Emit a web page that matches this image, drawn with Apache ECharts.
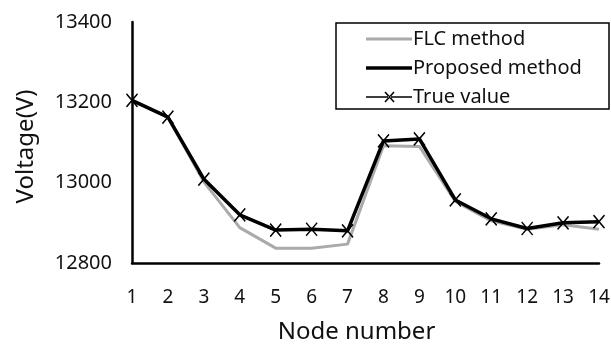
<!DOCTYPE html>
<html>
<head>
<meta charset="utf-8">
<script src="https://cdn.jsdelivr.net/npm/echarts@6/dist/echarts.min.js"></script>
<style>
  html, body { margin: 0; padding: 0; background: #fff; }
  #chart { width: 611px; height: 345px; }
</style>
</head>
<body>
<div id="chart"></div>
<script>
// Node voltages along the feeder
const nodes = ['1','2','3','4','5','6','7','8','9','10','11','12','13','14'];
const flcMethod = [13205, 13163, 13002, 12888, 12837, 12837, 12847, 13092, 13090, 12953, 12905, 12884, 12895, 12884];
const proposedMethod = [13205, 13163, 13009, 12920, 12882, 12884, 12880, 13104, 13109, 12957, 12910, 12886, 12900, 12903];
const trueValue = [13205, 13163, 13009, 12920, 12882, 12884, 12880, 13104, 13109, 12957, 12910, 12886, 12900, 12903];

const FONT = 'Noto Sans';
const crossSymbol = 'path://M0,0L10,12M10,0L0,12';

// legend icons: plain strokes, and a thin stroke with a cross for the reference values
const lineIconThin = 'path://M0,0H46V3H0Z';
const lineIconThick = 'path://M0,0H46V3.6H0Z';
const crossLineIcon = 'path://M0,6.3H46V7.7H0Z' +
  'M18.42,2.48L27.42,12.48L28.58,11.52L19.58,1.52Z' +
  'M28.58,2.48L27.42,1.52L18.42,11.52L19.58,12.48Z';

const chart = echarts.init(document.getElementById('chart'), null, { renderer: 'canvas' });

chart.setOption({
  animation: false,
  backgroundColor: '#fff',
  textStyle: { fontFamily: FONT },
  grid: { left: 132, right: 12, top: 22, bottom: 82, containLabel: false, outerBoundsMode: 'none' },
  xAxis: {
    type: 'category',
    data: nodes,
    boundaryGap: false,
    name: 'Node number',
    nameLocation: 'middle',
    nameGap: 57,
    nameTextStyle: { fontSize: 24, color: '#111', fontFamily: FONT, padding: [0, 18, 0, 0] },
    axisLine: { lineStyle: { color: '#000', width: 2.5 } },
    axisTick: { show: false },
    axisLabel: { fontSize: 19, color: '#111', margin: 25, fontFamily: FONT },
    splitLine: { show: false }
  },
  yAxis: {
    type: 'value',
    min: 12800,
    max: 13400,
    interval: 200,
    name: 'Voltage(V)',
    nameLocation: 'middle',
    nameGap: 94,
    nameRotate: 90,
    nameTextStyle: { fontSize: 24, color: '#111', fontFamily: FONT, padding: [0, 8, 0, 0] },
    axisLine: { show: true, lineStyle: { color: '#000', width: 2.5 } },
    axisTick: { show: false },
    axisLabel: { fontSize: 20, color: '#111', margin: 20, fontFamily: FONT, formatter: v => String(v) },
    splitLine: { show: false }
  },
  legend: {
    orient: 'vertical',
    left: 366,
    top: 29,
    itemWidth: 46,
    itemHeight: 14,
    itemGap: 9,
    padding: 0,
    symbolKeepAspect: true,
    textStyle: { fontSize: 20, lineHeight: 18, color: '#111', fontFamily: FONT, padding: [0, 0, 0, -4] },
    data: [
      { name: 'FLC method', icon: lineIconThin, itemStyle: { color: '#aaaaaa', borderWidth: 0 } },
      { name: 'Proposed method', icon: lineIconThick, itemStyle: { color: '#000', borderWidth: 0 } },
      { name: 'True value', icon: crossLineIcon, itemStyle: { color: '#000', borderWidth: 0 } }
    ]
  },
  graphic: [{
    type: 'rect',
    shape: { x: 336, y: 23, width: 273, height: 86 },
    style: { fill: 'none', stroke: '#000', lineWidth: 1.5 },
    z: 10
  }],
  series: [
    {
      name: 'FLC method',
      type: 'line',
      data: flcMethod,
      symbol: 'none',
      lineStyle: { color: '#aaaaaa', width: 3 },
      itemStyle: { color: '#aaaaaa' },
      z: 1
    },
    {
      name: 'Proposed method',
      type: 'line',
      data: proposedMethod,
      symbol: 'none',
      lineStyle: { color: '#000', width: 3.5 },
      itemStyle: { color: '#000' },
      z: 2
    },
    {
      name: 'True value',
      type: 'line',
      data: trueValue,
      symbol: crossSymbol,
      symbolSize: [11, 13],
      showAllSymbol: true,
      lineStyle: { color: '#000', width: 1.5 },
      itemStyle: { color: 'none', borderColor: '#000', borderWidth: 1.5 },
      z: 3
    }
  ]
});
</script>
</body>
</html>
